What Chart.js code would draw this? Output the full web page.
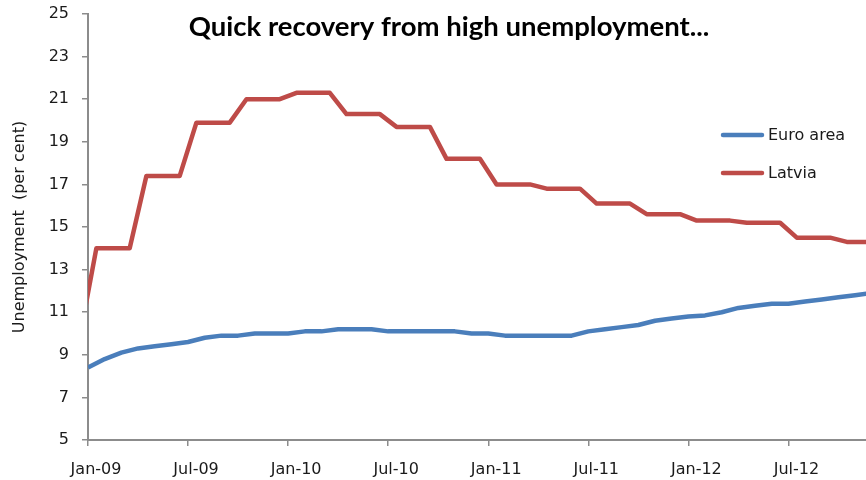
<!DOCTYPE html>
<html>
<head>
<meta charset="utf-8">
<title>Unemployment</title>
<script src="https://cdn.jsdelivr.net/npm/chart.js@4.4.1/dist/chart.umd.min.js"></script>
<style>
    html, body { margin: 0; padding: 0; background: #fff; overflow: hidden; }
    #caixa { position: relative; width: 866px; height: 480px; }
</style>
</head>
<body>
<div id="caixa"><canvas id="grafico"></canvas></div>
<script>
// =============================
// DATA
// =============================

// Euro area, monthly, Jan-09 .. Dec-12
const euroArea = [
    8.4, 8.8, 9.1, 9.3, 9.4, 9.5, 9.6, 9.8, 9.9, 9.9, 10.0, 10.0,
    10.0, 10.1, 10.1, 10.2, 10.2, 10.2, 10.1, 10.1, 10.1, 10.1, 10.1, 10.0,
    10.0, 9.9, 9.9, 9.9, 9.9, 9.9, 10.1, 10.2, 10.3, 10.4, 10.6, 10.7,
    10.8, 10.85, 11.0, 11.2, 11.3, 11.4, 11.4, 11.5, 11.6, 11.7, 11.8, 11.9
];

// Latvia, quarterly rate repeated each month (mid-month), Dec-08 .. Dec-12
const latvia = [
    9.8,
    14.0, 14.0, 14.0, 17.4, 17.4, 17.4, 19.9, 19.9, 19.9, 21.0, 21.0, 21.0,
    21.3, 21.3, 21.3, 20.3, 20.3, 20.3, 19.7, 19.7, 19.7, 18.2, 18.2, 18.2,
    17.0, 17.0, 17.0, 16.8, 16.8, 16.8, 16.1, 16.1, 16.1, 15.6, 15.6, 15.6,
    15.3, 15.3, 15.3, 15.2, 15.2, 15.2, 14.5, 14.5, 14.5, 14.3, 14.3, 14.3
];

const tickMonths = [0, 6, 12, 18, 24, 30, 36, 42];
const tickLabels = ['Jan-09', 'Jul-09', 'Jan-10', 'Jul-10', 'Jan-11', 'Jul-11', 'Jan-12', 'Jul-12'];

const seriesNames = ['Euro area', 'Latvia'];
const seriesColors = ['#4a7ebb', '#be4b48'];

const titleText = 'Quick recovery from high unemployment...';


// =============================
// PLUGINS: TITLE AND LEGEND
// =============================

const axisGrey = '#8c8c8c';
const textColor = '#1a1a1a';

const titlePlugin = {
    id: 'titulo',
    afterDraw(chart) {
        const ctx = chart.ctx;
        ctx.save();
        ctx.font = 'bold 27.5px Lato';
        ctx.fillStyle = '#000';
        ctx.textAlign = 'center';
        ctx.textBaseline = 'alphabetic';
        ctx.fillText(titleText, 449, 35.5);
        ctx.restore();
    }
};

const legendPlugin = {
    id: 'legenda',
    afterDraw(chart) {
        const ctx = chart.ctx;
        ctx.save();
        ctx.font = '16px "DejaVu Sans"';
        ctx.textBaseline = 'middle';
        ctx.textAlign = 'left';

        chart.data.datasets.forEach((ds, i) => {
            const y = 135 + i * 38;

            ctx.strokeStyle = ds.borderColor;
            ctx.lineWidth = 4.5;
            ctx.lineCap = 'round';
            ctx.beginPath();
            ctx.moveTo(723, y);
            ctx.lineTo(762, y);
            ctx.stroke();

            ctx.fillStyle = textColor;
            ctx.fillText(ds.label, 768, y + 1);
        });

        ctx.restore();
    }
};


// =============================
// CHART
// =============================

function toPoints(values, firstMonth) {
    return values.map((v, i) => ({ x: firstMonth + i, y: v }));
}

const tickFont = { family: 'DejaVu Sans', size: 16 };

new Chart(document.getElementById('grafico'), {
    type: 'line',
    data: {
        datasets: [
            {
                label: seriesNames[0],
                data: toPoints(euroArea, 0),
                borderColor: seriesColors[0],
                borderWidth: 4.5,
                pointRadius: 0,
                tension: 0,
                clip: 0
            },
            {
                label: seriesNames[1],
                data: toPoints(latvia, -0.5),
                borderColor: seriesColors[1],
                borderWidth: 4.5,
                pointRadius: 0,
                tension: 0,
                clip: 0
            }
        ]
    },
    options: {
        responsive: true,
        maintainAspectRatio: false,
        animation: false,
        devicePixelRatio: 1,
        layout: { padding: { top: 14, left: 0, right: 0, bottom: 0 } },
        plugins: {
            legend: { display: false },
            title: { display: false },
            tooltip: { enabled: false }
        },
        elements: {
            line: { borderJoinStyle: 'round' }
        },
        scales: {
            x: {
                type: 'linear',
                min: 0,
                max: 46.65,
                afterBuildTicks: axis => {
                    axis.ticks = tickMonths.map(v => ({ value: v }));
                },
                afterFit: axis => {
                    axis.height = 40;
                    axis.paddingLeft = 0;
                    axis.paddingRight = 0;
                },
                grid: {
                    drawOnChartArea: false,
                    drawTicks: true,
                    tickLength: 6,
                    color: axisGrey,
                    lineWidth: 1.5
                },
                border: { color: axisGrey, width: 2 },
                ticks: {
                    callback: value => tickLabels[tickMonths.indexOf(value)],
                    labelOffset: 8,
                    padding: 14,
                    maxRotation: 0,
                    autoSkip: false,
                    color: textColor,
                    font: tickFont
                }
            },
            y: {
                min: 5,
                max: 25,
                afterFit: axis => {
                    axis.width = 88;
                    axis.paddingTop = 0;
                    axis.paddingBottom = 0;
                },
                grid: {
                    drawOnChartArea: false,
                    drawTicks: true,
                    tickLength: 6,
                    color: axisGrey,
                    lineWidth: 1.5
                },
                border: { color: axisGrey, width: 2 },
                ticks: {
                    stepSize: 2,
                    padding: 13,
                    color: textColor,
                    font: tickFont
                },
                title: {
                    display: true,
                    text: 'Unemployment  (per cent)',
                    color: textColor,
                    font: { family: 'DejaVu Sans', size: 16 },
                    padding: { top: 10, bottom: 0 }
                }
            }
        }
    },
    plugins: [titlePlugin, legendPlugin]
});
</script>
</body>
</html>
